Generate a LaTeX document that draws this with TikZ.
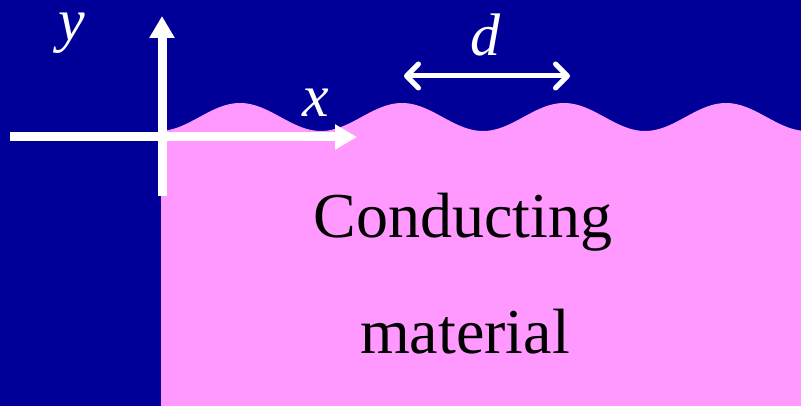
\documentclass[tikz,border=0pt]{standalone}
\usepackage{fontspec}
\setmainfont{Liberation Serif}
\usetikzlibrary{arrows.meta}

\definecolor{bgblue}{RGB}{0,0,153}
\definecolor{metalpink}{RGB}{255,153,255}

\begin{document}
\begin{tikzpicture}[
    x=1pt, y=-1pt,
    axis/.style={white, line width=9pt, -{Triangle[length=22pt, width=24pt]}},
    period/.style={white, line width=5pt, {Straight Barb[length=12pt, width=24pt, round]}-{Straight Barb[length=12pt, width=24pt, round]}},
    axlab/.style={white, inner sep=0pt, font=\fontsize{60}{70}\selectfont\itshape, anchor=base},
    bodylab/.style={inner sep=0pt, font=\fontsize{64}{72}\selectfont, anchor=base},
]
\useasboundingbox (0,0) rectangle (801,406);
\fill[bgblue] (0,0) rectangle (801,406);

% conducting material with corrugated surface
\fill[metalpink] (161,406) -- (161,131)
    -- plot[domain=161:801, samples=200] (\x, {117-14*cos((\x-240)*2.2222)})
    -- (801,406) -- cycle;

% axes
\coordinate (xstart) at (10,137);
\coordinate (xend) at (357,137);
\coordinate (ystart) at (162,196);
\coordinate (yend) at (162,16);
\draw[axis] (xstart) -- (xend);
\draw[axis] (ystart) -- (yend);
\node[axlab] (xlab) at (316,117) {x};
\node[axlab] (ylab) at (72,41) {y};

% period of the surface
\coordinate (dleft) at (404,76);
\coordinate (dright) at (570,76);
\draw[period] (dleft) -- (dright);
\node[axlab] (dlab) at (485,56) {d};

% label of the region
\node[bodylab] (cond) at (463,238) {Conducting};
\node[bodylab] (mat) at (465,353) {material};
\end{tikzpicture}
\end{document}
